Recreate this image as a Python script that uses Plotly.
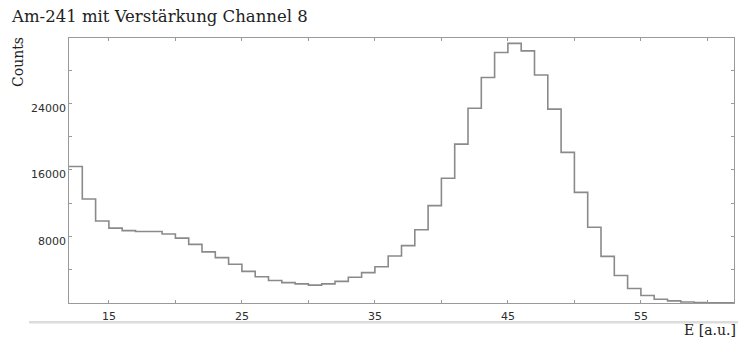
import plotly.graph_objects as go

# Am-241 spectrum, channel 8 with amplification: counts per 1-unit energy bin
bin_edges = list(range(12, 63))  # 12 ... 62
counts = [
    16400, 12500, 9850, 9000, 8700, 8600, 8600, 8300, 7800, 7050,
    6150, 5450, 4650, 3800, 3150, 2700, 2450, 2300, 2150, 2300,
    2600, 3100, 3650, 4350, 5650, 6900, 8800, 11700, 15000, 19100,
    23400, 27100, 30100, 31200, 30300, 27400, 23300, 18100, 13300, 9100,
    5600, 3300, 1750, 900, 450, 250, 120, 60, 30, 15,
]

x_ticks = list(range(15, 61, 5))
x_tick_labels = [str(v) if (v - 15) % 10 == 0 else "" for v in x_ticks]
y_ticks = list(range(4000, 28001, 4000))
y_tick_labels = [8000, 16000, 24000]

title_text = "Am-241 mit Verstärkung Channel 8"
y_title = "Counts"
x_title = "E [a.u.]"

LINE = "#8a8a8a"
AXIS = "#9a9a9a"
TICKFONT = dict(family="DejaVu Sans", size=11, color="#2e2e2e")
SERIF = "DejaVu Serif"
TEXT = "#222222"

W, H = 738, 343
L, R, T, B = 69, 4, 38, 40
pw, ph = W - L - R, H - T - B

fig = go.Figure()
fig.add_trace(
    go.Scatter(
        x=bin_edges,
        y=counts + [counts[-1]],
        mode="lines",
        line=dict(shape="hv", color=LINE, width=1.6),
        hoverinfo="skip",
        showlegend=False,
    )
)

fig.update_xaxes(
    range=[12, 62],
    tickmode="array",
    tickvals=x_ticks,
    ticktext=x_tick_labels,
    ticks="inside",
    ticklen=3,
    tickcolor=AXIS,
    showline=True,
    linecolor=AXIS,
    linewidth=1.3,
    mirror="ticks",
    showgrid=False,
    zeroline=False,
    tickfont=TICKFONT,
    ticklabelstandoff=3,
)
fig.update_yaxes(
    range=[0, 31850],
    tickmode="array",
    tickvals=y_ticks,
    ticktext=[""] * len(y_ticks),
    ticks="inside",
    ticklen=3,
    tickcolor=AXIS,
    showline=True,
    linecolor=AXIS,
    linewidth=1.3,
    mirror="ticks",
    showgrid=False,
    zeroline=False,
)

# y tick labels sit slightly below their tick marks
annotations = [
    dict(
        x=0, xref="paper", xanchor="right", xshift=-1,
        y=v, yref="y", yanchor="middle", yshift=-5,
        text=f"{v}", showarrow=False, font=TICKFONT,
    )
    for v in y_tick_labels
]
annotations.append(
    dict(
        x=-(L - 18.5) / pw, xref="paper", xanchor="center",
        y=1 - (62.5 - T) / ph, yref="paper", yanchor="middle",
        text=y_title, textangle=-90, showarrow=False,
        font=dict(family=SERIF, size=14, color=TEXT),
    )
)
annotations.append(
    dict(
        x=1 + R / pw, xref="paper", xanchor="right",
        y=-(329.5 - (H - B)) / ph, yref="paper", yanchor="middle",
        text=x_title, showarrow=False,
        font=dict(family=SERIF, size=14, color=TEXT),
    )
)

fig.update_layout(
    width=W,
    height=H,
    margin=dict(l=L, r=R, t=T, b=B),
    paper_bgcolor="white",
    plot_bgcolor="white",
    showlegend=False,
    title=dict(
        text=title_text,
        x=12 / W, xanchor="left", xref="container",
        y=1 - 16.5 / H, yanchor="middle", yref="container",
        font=dict(family=SERIF, size=16.5, color=TEXT),
    ),
    annotations=annotations,
)

# light rule beneath the tick labels
fig.add_shape(
    type="line", xref="paper", yref="paper",
    x0=(29 - L) / pw, x1=(W - L) / pw,
    y0=-(322.3 - (H - B)) / ph, y1=-(322.3 - (H - B)) / ph,
    line=dict(color="#dcdcdc", width=2.5),
)

fig.write_html("out.html")
